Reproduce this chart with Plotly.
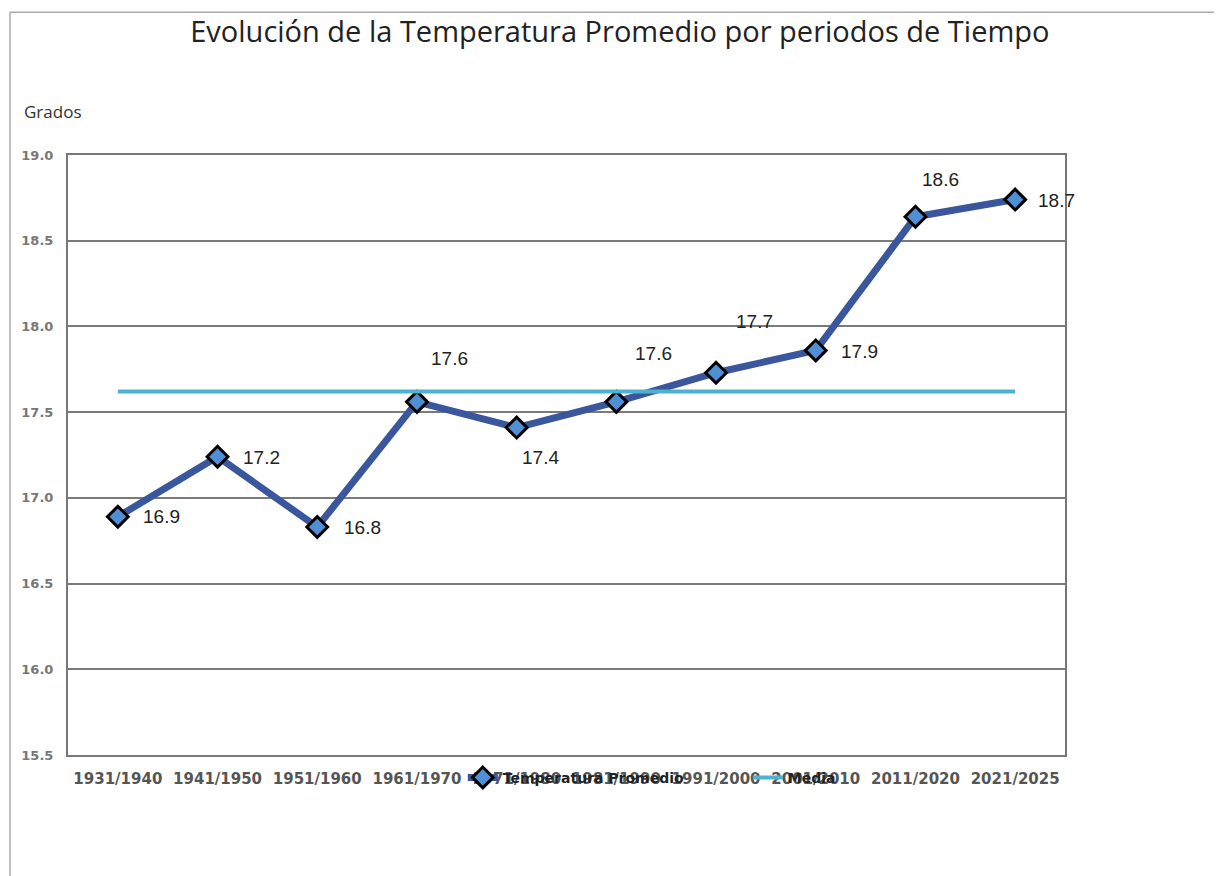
import plotly.graph_objects as go

periodos = ["1931/1940", "1941/1950", "1951/1960", "1961/1970", "1971/1980",
            "1981/1990", "1991/2000", "2001/2010", "2011/2020", "2021/2025"]
temperatura = [16.89, 17.24, 16.83, 17.56, 17.41, 17.56, 17.73, 17.86, 18.64, 18.74]
media = [17.62] * len(periodos)

# offsets (px) of each data label from its marker
label_dx = [44, 44, 45, 33, 24, 37, 38, 44, 25, 41]
label_dy = [0, -1, 0, 43, -30, 48, 51, -1, 37, -1]

fig = go.Figure()

fig.add_trace(go.Scatter(
    x=periodos, y=temperatura,
    mode="lines+markers",
    name="Temperatura Promedio",
    line=dict(color="#3a579d", width=7),
    marker=dict(symbol="diamond", size=16, color="#4f8fd6",
                line=dict(color="black", width=3)),
))

fig.add_trace(go.Scatter(
    x=periodos, y=media,
    mode="lines",
    name="Media",
    line=dict(color="#4bb3cf", width=4),
))

for i, (p, v) in enumerate(zip(periodos, temperatura)):
    fig.add_annotation(
        x=p, y=v, text=f"{v:.1f}", showarrow=False,
        xshift=label_dx[i], yshift=label_dy[i],
        font=dict(family="Liberation Sans, Arial", size=19, color="#222"),
    )

fig.add_annotation(
    x=-0.046, y=1.073, xref="paper", yref="paper",
    xanchor="left", yanchor="middle",
    text="Grados", showarrow=False,
    font=dict(family="Open Sans", size=17, color="#333"),
)

# outer chart frame (left and top edges)
fig.add_shape(type="line", xref="paper", yref="paper",
              x0=-0.0582, x1=-0.0582, y0=-0.3, y1=1.238,
              line=dict(color="#aaaaaa", width=1.5))
fig.add_shape(type="line", xref="paper", yref="paper",
              x0=-0.0582, x1=1.2, y0=1.238, y1=1.238,
              line=dict(color="#aaaaaa", width=1.5))

fig.update_layout(
    width=1214, height=868,
    margin=dict(l=60, r=157, t=147, b=121),
    paper_bgcolor="white",
    plot_bgcolor="white",
    title=dict(
        text="Evolución de la Temperatura Promedio por periodos de Tiempo",
        x=0.504, xanchor="center", y=0.972, yanchor="middle",
        font=dict(family="Open Sans", size=29, color="#222"),
    ),
    legend=dict(
        orientation="h", x=0.396, y=-0.038, xanchor="left", yanchor="middle",
        bgcolor="rgba(0,0,0,0)",
        entrywidth=240, entrywidthmode="pixels",
        font=dict(family="DejaVu Sans", size=14, color="#222", weight="bold"),
    ),
    showlegend=True,
)

fig.update_xaxes(
    type="category",
    range=[-0.5, len(periodos) - 0.5],
    showgrid=False,
    showline=True, linecolor="#777777", linewidth=2, mirror=True,
    ticks="",
    ticklabelstandoff=9,
    tickfont=dict(family="DejaVu Sans", size=15, color="#555", weight="bold"),
)

fig.update_yaxes(
    range=[15.5, 19.0],
    dtick=0.5,
    tickformat=".1f",
    showgrid=True, gridcolor="#7a7a7a", gridwidth=2,
    showline=True, linecolor="#777777", linewidth=2, mirror=True,
    zeroline=False,
    ticks="",
    ticklabelstandoff=10,
    tickfont=dict(family="DejaVu Sans", size=13, color="#777", weight="bold"),
)

fig.write_html("out.html")
